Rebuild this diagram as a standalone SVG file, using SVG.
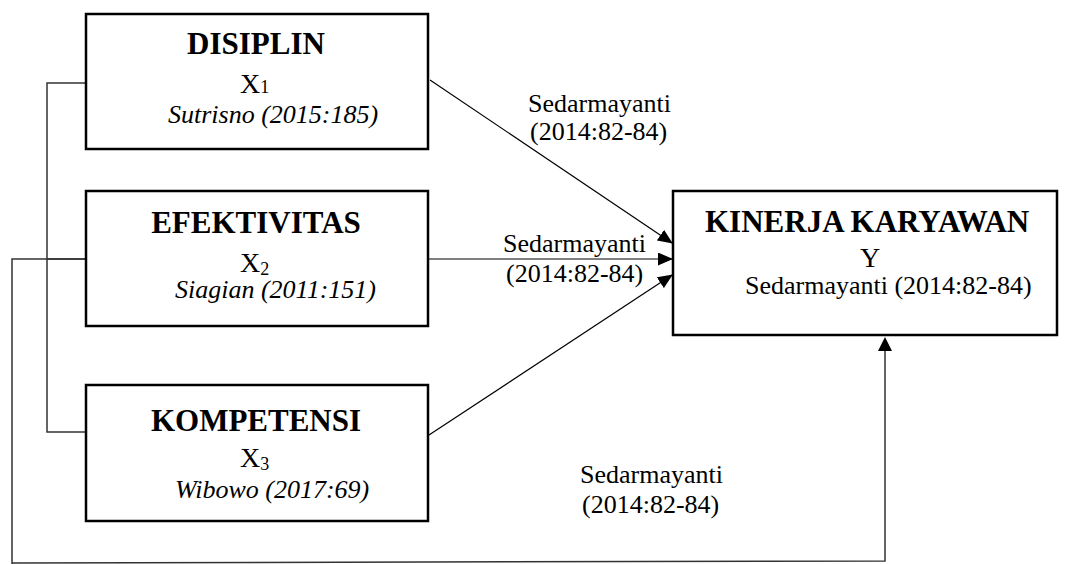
<svg xmlns="http://www.w3.org/2000/svg" width="1067" height="564" viewBox="0 0 1067 564">
<style>
text{font-family:"Liberation Serif","Times New Roman","DejaVu Serif",serif;fill:#000}
.box{fill:#fff;stroke:#000;stroke-width:2.5}
.title{font-weight:bold;font-size:31px}
.var{font-size:28px}
.sub{font-size:18px}
.ref{font-style:italic;font-size:26px}
.lbl{font-size:26px}
.arr{stroke:#000;stroke-width:1.2;fill:none;marker-end:url(#ah)}
.br{stroke:#333;stroke-width:1.5;fill:none}
</style>
<defs>
<marker id="ah" markerWidth="15" markerHeight="13" refX="14" refY="6.5" orient="auto" markerUnits="userSpaceOnUse">
<path d="M0,0 L15,6.5 L0,13 Z" fill="#000"/>
</marker>
</defs>
<rect width="1067" height="564" fill="#fff"/>
<g id="connectors">
<polyline class="br" points="85,83 47,83 47,432 85,432"/>
<line class="br" x1="47" y1="259" x2="85" y2="259"/>
<polyline class="br" points="85,259 12,259 12,564"/>
<polyline class="br" points="12,563 885,561 885,350"/>
<path d="M878,351 L885,337 L892,351 Z" fill="#000"/>
<line class="arr" x1="430" y1="80" x2="672" y2="243"/>
<line class="arr" x1="428" y1="259" x2="672" y2="259"/>
<line class="arr" x1="429" y1="435" x2="672" y2="275"/>
<text class="lbl" x="528" y="112">Sedarmayanti</text>
<text class="lbl" x="530" y="140">(2014:82-84)</text>
<text class="lbl" x="503" y="252">Sedarmayanti</text>
<text class="lbl" x="506" y="282">(2014:82-84)</text>
<text class="lbl" x="580" y="483">Sedarmayanti</text>
<text class="lbl" x="582" y="513">(2014:82-84)</text>
</g>
<g id="disiplin">
<rect class="box" x="86" y="14" width="342" height="135"/>
<text class="title" x="256" y="54" text-anchor="middle">DISIPLIN</text>
<text class="var" x="240" y="93">X<tspan class="sub">1</tspan></text>
<text class="ref" x="168" y="123">Sutrisno (2015:185)</text>
</g>
<g id="efektivitas">
<rect class="box" x="86" y="191" width="342" height="135"/>
<text class="title" x="256" y="233" text-anchor="middle">EFEKTIVITAS</text>
<text class="var" x="240" y="272">X<tspan class="sub" dy="3">2</tspan></text>
<text class="ref" x="175" y="298">Siagian (2011:151)</text>
</g>
<g id="kompetensi">
<rect class="box" x="86" y="385" width="342" height="136"/>
<text class="title" x="256" y="431" text-anchor="middle">KOMPETENSI</text>
<text class="var" x="240" y="467">X<tspan class="sub" dy="3">3</tspan></text>
<text class="ref" x="175" y="498">Wibowo (2017:69)</text>
</g>
<g id="kinerja">
<rect class="box" x="673" y="191" width="384" height="144"/>
<text class="title" x="705" y="232">KINERJA KARYAWAN</text>
<text class="var" x="870" y="267" text-anchor="middle">Y</text>
<text class="lbl" x="745" y="294">Sedarmayanti (2014:82-84)</text>
</g>
</svg>
